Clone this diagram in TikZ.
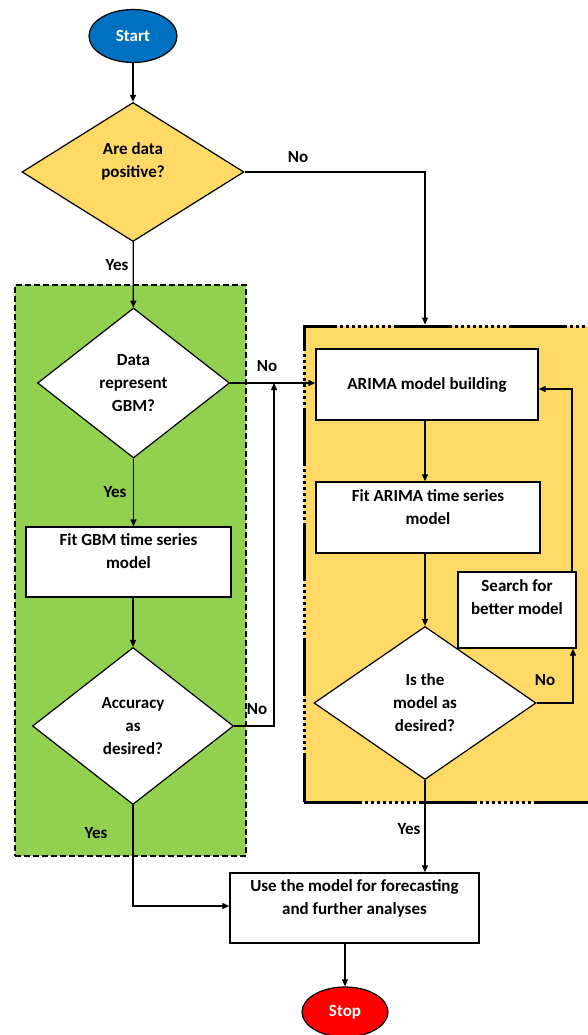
\documentclass[tikz,border=0pt]{standalone}
\usepackage{fontspec}
\setmainfont{Carlito}
\usetikzlibrary{shapes.geometric,arrows.meta}
\definecolor{cblue}{HTML}{0070C0}
\definecolor{cred}{HTML}{FF0000}
\definecolor{cyellow}{HTML}{FFD966}
\definecolor{cgreen}{HTML}{92D050}
\begin{document}
\begin{tikzpicture}[x=1pt,y=-1pt,
  every node/.style={font=\bfseries\fontsize{17}{23}\selectfont},
  box/.style={draw, fill=white, line width=1.4pt, align=center, inner sep=0pt},
  dia/.style={diamond, draw, fill=white, line width=1.2pt, align=center, inner sep=0pt},
  term/.style={ellipse, draw=black, line width=1.2pt, text=white, inner sep=0pt},
  conn/.style={line width=1.3pt, -{Triangle[length=7pt,width=6pt]}},
  lbl/.style={inner sep=0pt}]
\useasboundingbox (0,0) rectangle (587,1035);
% group boxes
\node[draw, fill=cgreen, line width=1.4pt, dash pattern=on 6pt off 3pt, minimum width=231pt, minimum height=571pt, inner sep=0pt] (gbox) at (130.5,570.5) {};
\node[draw, fill=cyellow, line width=3pt, dash pattern=on 58pt off 3pt on 3pt off 3pt on 3pt off 3pt on 3pt off 3pt on 3pt off 3pt on 3pt off 3pt on 3pt off 3pt on 3pt off 3pt on 3pt off 3pt on 3pt off 3pt, minimum width=296pt, minimum height=476pt, inner sep=0pt] (ybox) at (452,564) {};
% terminals
\node[term, fill=cblue, minimum width=88pt, minimum height=53pt] (start) at (133,36) {Start};
\node[term, fill=cred, minimum width=86pt, minimum height=50pt] (stop) at (345,1012) {Stop};
% decisions
\node[dia, fill=cyellow, minimum width=222pt, minimum height=139pt] (d1) at (133,172) {Are data\\positive?\\[-6pt]\strut};
\node[dia, minimum width=192pt, minimum height=150pt] (d2) at (133.5,383) {Data\\represent\\GBM?};
\node[dia, minimum width=201pt, minimum height=157pt] (d3) at (133,726) {Accuracy\\as\\desired?};
\node[dia, minimum width=222pt, minimum height=153pt] (d4) at (425,703) {Is the\\model as\\desired?};
% process boxes
\node[box, minimum width=205pt, minimum height=70pt] (gbm) at (128.5,562) {Fit GBM time series\\model\\[-8pt]\strut};
\node[box, minimum width=222pt, minimum height=71pt] (arima) at (427,384.5) {ARIMA model building};
\node[box, minimum width=224pt, minimum height=71pt] (fit) at (428,517.5) {Fit ARIMA time series\\model\\[-8pt]\strut};
\node[box, minimum width=118pt, minimum height=76pt] (search) at (517,610) {Search for\\better model\\[-4pt]\strut};
\node[box, minimum width=249pt, minimum height=70pt] (use) at (354.5,908) {Use the model for forecasting\\and further analyses\\[-8pt]\strut};
% connectors
\coordinate (c1) at (425,172);
\coordinate (j) at (274,383);
\coordinate (c3) at (133,906);
\coordinate (c4) at (573,703);
\coordinate (c5) at (572,389);
\draw[conn] (start) -- (d1);
\draw[conn] (d1.east) -- (c1) -- (c1 |- ybox.north);
\draw[conn] (d1) -- (d2);
\draw[conn] (d2.east) -- (arima.west |- d2.east);
\draw[conn] (d2) -- (gbm.north -| d2);
\draw[conn] (gbm.south -| d3) -- (d3);
\draw[conn] (d3.east) -| (j);
\draw[conn] (d3) -- (c3) -- (use.west |- c3);
\draw[conn] (arima.south -| d4) -- (fit.north -| d4);
\draw[conn] (fit.south -| d4) -- (d4);
\draw[conn] (d4.east) -- (c4) -- (c4 |- search.south);
\draw[conn] (c5 |- search.north) -- (c5) -- (arima.east |- c5);
\draw[conn] (d4) -- (use.north -| d4);
\draw[conn] (use.south -| stop) -- (stop);
% labels
\node[lbl] (l1) at (298,157) {No};
\node[lbl] (l2) at (117,265) {Yes};
\node[lbl] (l3) at (267,366) {No};
\node[lbl] (l4) at (115,492) {Yes};
\node[lbl] (l5) at (257,709) {No};
\node[lbl] (l6) at (96,833) {Yes};
\node[lbl] (l7) at (545,680) {No};
\node[lbl] (l8) at (409,829) {Yes};
\end{tikzpicture}
\end{document}
